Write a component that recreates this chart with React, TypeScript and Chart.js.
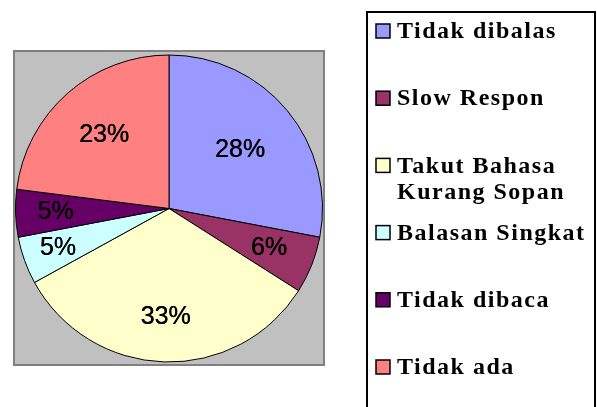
import React, { useEffect, useRef } from "react";
import { Chart, registerables } from "chart.js";

Chart.register(...registerables);

const categories = [
  "Tidak dibalas",
  "Slow Respon",
  "Takut Bahasa Kurang Sopan",
  "Balasan Singkat",
  "Tidak dibaca",
  "Tidak ada",
];
const legendLines = [
  ["Tidak dibalas"],
  ["Slow Respon"],
  ["Takut Bahasa", "Kurang Sopan"],
  ["Balasan Singkat"],
  ["Tidak dibaca"],
  ["Tidak ada"],
];
const values = [28, 6, 33, 5, 5, 23];
const percentLabels = ["28%", "6%", "33%", "5%", "5%", "23%"];
const colors = ["#9999FF", "#993366", "#FFFFCC", "#CCFFFF", "#660066", "#FF8080"];
// label distance from centre as a fraction of the radius (style)
const labelRadius = [0.6, 0.7, 0.71, 0.77, 0.74, 0.64];

const W = 597;
const H = 407;

const plotBg = {
  id: "plotBg",
  beforeDraw(chart: any) {
    const { ctx, chartArea } = chart;
    ctx.save();
    ctx.fillStyle = "#c0c0c0";
    ctx.fillRect(chartArea.left - 1, chartArea.top - 2, chartArea.width + 2, chartArea.height + 3);
    ctx.strokeStyle = "#808080";
    ctx.lineWidth = 2;
    ctx.strokeRect(chartArea.left - 1, chartArea.top - 2, chartArea.width + 2, chartArea.height + 3);
    ctx.restore();
  },
};

const sliceLabels = {
  id: "sliceLabels",
  afterDatasetsDraw(chart: any) {
    const { ctx } = chart;
    const meta = chart.getDatasetMeta(0);
    ctx.save();
    ctx.font = "25px 'Liberation Sans', Arial, sans-serif";
    ctx.fillStyle = "#000";
    ctx.textAlign = "center";
    ctx.textBaseline = "middle";
    meta.data.forEach((arc: any, i: number) => {
      const p = arc.getProps(["x", "y", "startAngle", "endAngle", "outerRadius"], true);
      const mid = (p.startAngle + p.endAngle) / 2;
      const r = p.outerRadius * labelRadius[i];
      const x = p.x + Math.cos(mid) * r;
      const y = p.y + Math.sin(mid) * r;
      ctx.fillText(percentLabels[i], x, y);
      ctx.fillText(percentLabels[i], x + 0.4, y);
    });
    ctx.restore();
  },
};

const boxLegend = {
  id: "boxLegend",
  afterDraw(chart: any) {
    const { ctx } = chart;
    const bx = 367;
    const by = 12;
    const bw = 228;
    const step = 67.2;
    const lineH = 26;
    ctx.save();
    ctx.strokeStyle = "#000";
    ctx.lineWidth = 2;
    ctx.strokeRect(bx, by, bw, H - by + 10);
    ctx.font = "bold 24px 'Liberation Serif', 'Times New Roman', serif";
    (ctx as any).letterSpacing = "1.5px";
    ctx.textBaseline = "middle";
    ctx.textAlign = "left";
    legendLines.forEach((lines, i) => {
      const cy = by + 19 + step * i;
      ctx.fillStyle = colors[i];
      ctx.fillRect(bx + 9, cy - 7, 14, 14);
      ctx.strokeStyle = "#000";
      ctx.lineWidth = 1.5;
      ctx.strokeRect(bx + 9, cy - 7, 14, 14);
      ctx.fillStyle = "#000";
      lines.forEach((t, j) => {
        ctx.fillText(t, bx + 30, cy + j * lineH + 1);
      });
    });
    ctx.restore();
  },
};

export default function App() {
  const ref = useRef<HTMLCanvasElement | null>(null);
  useEffect(() => {
    if (!ref.current) return;
    const chart = new Chart(ref.current, {
      type: "pie",
      data: {
        labels: categories,
        datasets: [
          {
            data: values,
            backgroundColor: colors,
            borderColor: "#000",
            borderWidth: 1,
            hoverOffset: 0,
          },
        ],
      },
      options: {
        responsive: false,
        animation: false,
        layout: { padding: { left: 15, top: 53, right: W - 323, bottom: H - 364 } },
        plugins: {
          legend: { display: false },
          tooltip: { enabled: false },
        },
      },
      plugins: [plotBg, sliceLabels, boxLegend],
    });
    return () => chart.destroy();
  }, []);
  return (
    <div style={{ position: "fixed", left: 0, top: 0, width: W, height: H, background: "#fff" }}>
      <canvas ref={ref} width={W} height={H} style={{ width: W, height: H, display: "block" }} />
    </div>
  );
}
